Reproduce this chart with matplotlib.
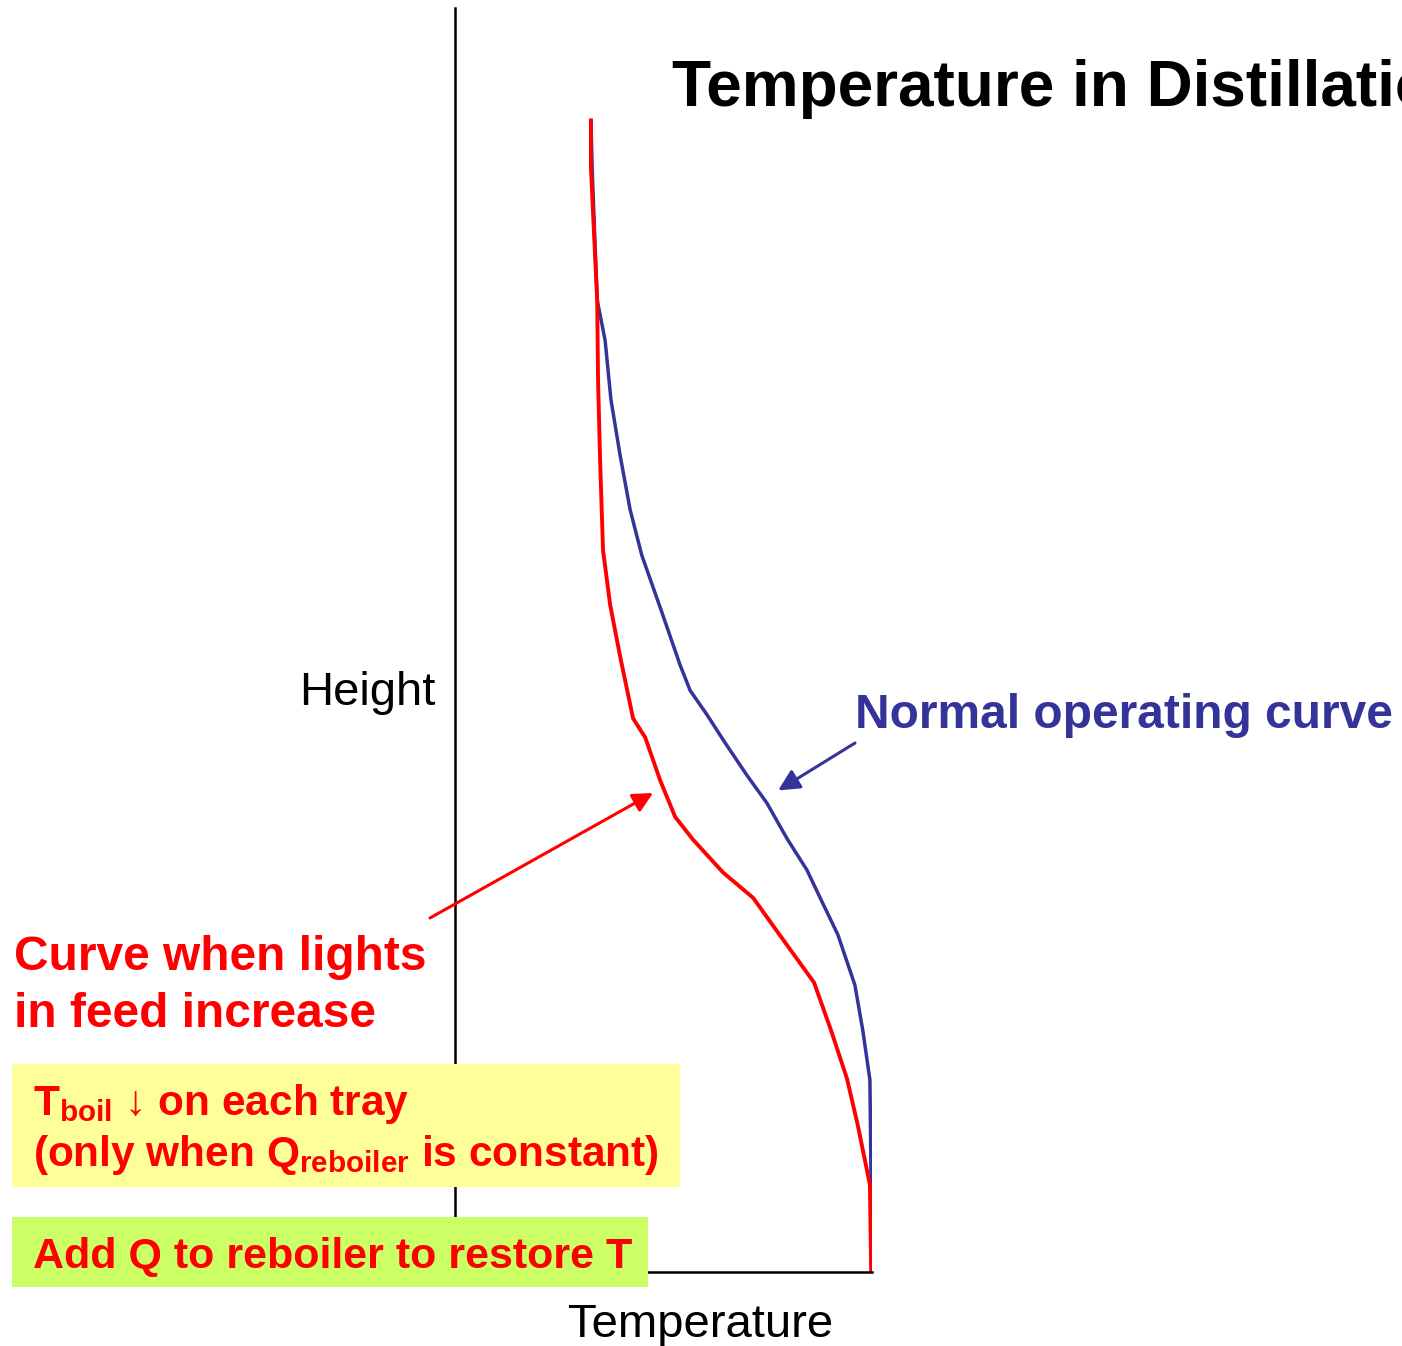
import matplotlib
matplotlib.use("Agg")
import matplotlib.pyplot as plt
from matplotlib.patches import Rectangle

plt.rcParams['font.family'] = ['Liberation Sans', 'DejaVu Sans']
plt.rcParams['mathtext.fontset'] = 'custom'
plt.rcParams['mathtext.rm'] = 'Liberation Sans'
plt.rcParams['mathtext.bf'] = 'Liberation Sans:bold'

# courbes (temperature 0-100, hauteur 0-100)
temp_normal = [32.6, 32.9, 34.1, 36.0, 37.4, 39.6, 42.0, 44.8, 49.6, 54.0, 56.4, 60.4,
               64.7, 70.0, 74.8, 79.6, 84.4, 88.0, 91.8, 95.9, 97.8, 99.5, 99.8, 100.0]
haut_normal = [91.1, 87.2, 76.9, 73.7, 69.0, 64.6, 60.3, 56.7, 52.2, 48.0, 46.0, 44.1,
               41.9, 39.3, 37.1, 34.3, 31.8, 29.3, 26.7, 22.7, 19.1, 15.2, 6.5, 0.0]

temp_legers = [32.6, 32.6, 33.3, 34.1, 34.3, 34.8, 35.5, 37.2, 39.6, 42.7, 45.6, 49.2,
               52.8, 57.1, 64.3, 71.5, 76.7, 86.1, 90.2, 94.0, 96.6, 99.5, 99.8]
haut_legers = [91.1, 87.4, 82.4, 76.9, 70.6, 64.2, 57.1, 52.8, 48.7, 43.8, 42.3, 38.9,
               36.0, 34.2, 31.6, 29.6, 27.2, 22.9, 19.1, 15.3, 11.6, 6.9, 0.0]

W, H = 1402, 1346
bleu = '#333399'
rouge = '#ff0000'


def fx(x):
    return x / W


def fy(y):
    return 1 - y / H


fig = plt.figure(figsize=(W / 100, H / 100), dpi=100)
ax = fig.add_axes([fx(455), fy(1272), (872 - 455) / W, (1272 - 8) / H])
ax.set_xlim(0, 100)
ax.set_ylim(0, 100)
for s in ['top', 'right']:
    ax.spines[s].set_visible(False)
for s in ['left', 'bottom']:
    ax.spines[s].set_linewidth(1.8)
ax.set_xticks([])
ax.set_yticks([])

ax.plot(temp_normal, haut_normal, color=bleu, lw=2.5, solid_joinstyle='round')
ax.plot(temp_legers, haut_legers, color=rouge, lw=2.8, solid_joinstyle='round')

# textes
fig.text(fx(672), fy(106), 'Temperature in Distillation Column', fontsize=46,
         fontweight='bold', va='baseline')
fig.text(fx(436), fy(705), 'Height', fontsize=34, ha='right', va='baseline')
fig.text(fx(701), fy(1337), 'Temperature', fontsize=34, ha='center', va='baseline')
fig.text(fx(855), fy(728), 'Normal operating curve', fontsize=34.5, fontweight='bold',
         color=bleu, va='baseline')
fig.text(fx(14), fy(970), 'Curve when lights', fontsize=34.5, fontweight='bold',
         color=rouge, va='baseline')
fig.text(fx(14), fy(1027), 'in feed increase', fontsize=34.5, fontweight='bold',
         color=rouge, va='baseline')

# fleches
ax.annotate('', xy=(77.5, 38.1), xycoords='data', xytext=(fx(855), fy(743)),
            textcoords='figure fraction',
            arrowprops=dict(arrowstyle='-|>', color=bleu, lw=2.2, mutation_scale=32,
                            shrinkA=0, shrinkB=0))
ax.annotate('', xy=(47.5, 37.9), xycoords='data', xytext=(fx(430), fy(918)),
            textcoords='figure fraction',
            arrowprops=dict(arrowstyle='-|>', color=rouge, lw=2.2, mutation_scale=30,
                            shrinkA=0, shrinkB=0))

# encadres
fig.add_artist(Rectangle((fx(12), fy(1187)), (680 - 12) / W, (1187 - 1064) / H,
                         transform=fig.transFigure, facecolor='#ffff99',
                         edgecolor='none', zorder=5))
fig.add_artist(Rectangle((fx(12), fy(1287)), (648 - 12) / W, (1287 - 1217) / H,
                         transform=fig.transFigure, facecolor='#ccff66',
                         edgecolor='none', zorder=5))
fig.text(fx(33), fy(1115), r'$\mathbf{T_{boil}}$ ↓ on each tray', fontsize=30.5,
         fontweight='bold', color=rouge, va='baseline', zorder=6)
fig.text(fx(33), fy(1166), r'(only when $\mathbf{Q_{reboiler}}$ is constant)',
         fontsize=30.5, fontweight='bold', color=rouge, va='baseline', zorder=6)
fig.text(fx(33), fy(1268), 'Add Q to reboiler to restore T', fontsize=31,
         fontweight='bold', color=rouge, va='baseline', zorder=6)

fig.savefig('out.png', dpi=100)
